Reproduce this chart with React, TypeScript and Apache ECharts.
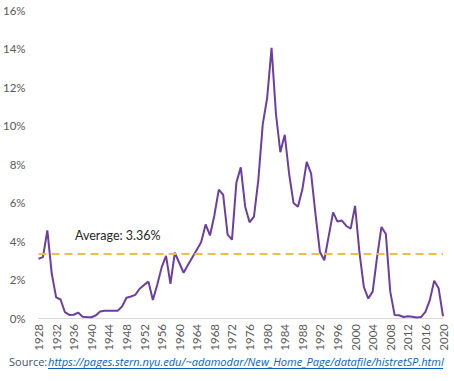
import React, { useEffect, useRef } from "react";
import * as echarts from "echarts";

const years: string[] = [];
for (let y = 1928; y <= 2020; y++) years.push(String(y));

const rates: number[] = [
  3.08, 3.16, 4.55, 2.31, 1.07, 0.96, 0.3, 0.16, 0.17, 0.28,
  0.07, 0.05, 0.04, 0.13, 0.34, 0.38, 0.38, 0.38, 0.38, 0.6,
  1.05, 1.12, 1.2, 1.52, 1.72, 1.89, 0.94, 1.73, 2.63, 3.23,
  1.77, 3.39, 2.87, 2.35, 2.77, 3.16, 3.55, 3.95, 4.86, 4.29,
  5.34, 6.67, 6.39, 4.33, 4.07, 7.03, 7.83, 5.78, 4.97, 5.27,
  7.19, 10.07, 11.43, 14.03, 10.61, 8.61, 9.52, 7.48, 5.98, 5.78,
  6.67, 8.11, 7.5, 5.38, 3.43, 3.0, 4.25, 5.49, 5.01, 5.06,
  4.78, 4.64, 5.82, 3.4, 1.61, 1.01, 1.37, 3.15, 4.73, 4.36,
  1.37, 0.15, 0.14, 0.05, 0.09, 0.06, 0.03, 0.05, 0.32, 0.93,
  1.94, 1.55, 0.09,
];

const average = 3.36;
const averageLabel = "Average: 3.36%";
const sourcePrefix = "Source:";
const sourceUrl = "https://pages.stern.nyu.edu/~adamodar/New_Home_Page/datafile/histretSP.html";

export default function App() {
  const ref = useRef<HTMLDivElement>(null);
  useEffect(() => {
    if (!ref.current) return;
    const chart = echarts.init(ref.current, null, { renderer: "svg" });
    chart.setOption({
      animation: false,
      backgroundColor: "#ffffff",
      grid: { left: 37, right: 11, top: 10, bottom: 63 },
      xAxis: {
        type: "category",
        data: years,
        boundaryGap: false,
        axisLine: { show: true, lineStyle: { color: "#d9d9d9", width: 1 } },
        axisTick: { show: false },
        axisLabel: {
          rotate: 90,
          interval: 3,
          margin: 6,
          color: "#595959",
          fontSize: 11.5,
          fontFamily: "Lato",
        },
        splitLine: { show: false },
      },
      yAxis: {
        type: "value",
        min: 0,
        max: 16,
        interval: 2,
        axisLine: { show: false },
        axisTick: { show: false },
        splitLine: { show: false },
        axisLabel: {
          formatter: "{value}%",
          color: "#595959",
          fontSize: 11.5,
          fontFamily: "Lato",
          margin: 13,
        },
      },
      series: [
        {
          type: "line",
          data: rates,
          symbol: "none",
          lineStyle: { color: "#6b3fa0", width: 2 },
          markLine: {
            silent: true,
            symbol: "none",
            label: { show: false },
            lineStyle: { color: "#ecbf4a", width: 2, type: [8, 5] },
            data: [{ yAxis: average }],
          },
        },
      ],
      graphic: [
        {
          type: "text",
          left: 75,
          top: 229,
          style: {
            text: averageLabel,
            fill: "#262626",
            fontSize: 12.5,
            fontFamily: "Lato",
          },
        },
        {
          type: "text",
          left: 9,
          top: 356,
          style: {
            text: sourcePrefix,
            fill: "#44546a",
            fontSize: 11,
            fontFamily: "Open Sans",
          },
        },
        {
          type: "text",
          left: 48,
          top: 355.5,
          style: {
            text: sourceUrl,
            fill: "#0563c1",
            fontSize: 11.1,
            fontStyle: "italic",
            fontFamily: "Open Sans",
          },
        },
        {
          type: "line",
          shape: { x1: 48, y1: 368.5, x2: 443, y2: 368.5 },
          style: { stroke: "#0563c1", lineWidth: 1 },
        },
      ],
    });
    return () => chart.dispose();
  }, []);
  return (
    <div
      ref={ref}
      style={{ position: "fixed", left: 0, top: 0, width: 454, height: 381 }}
    />
  );
}
